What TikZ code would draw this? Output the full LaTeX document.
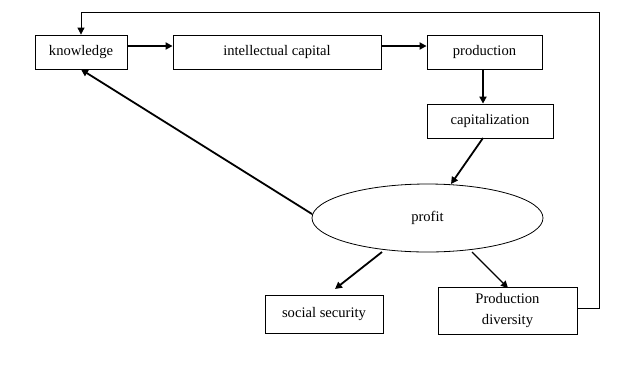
\documentclass[tikz,border=0pt]{standalone}
\usepackage{fontspec}
\setmainfont{Liberation Serif}
\usetikzlibrary{shapes.geometric,arrows.meta}
\begin{document}
\begin{tikzpicture}[x=1pt,y=-1pt,
  box/.style={draw,line width=0.8pt,inner sep=0pt,font=\fontsize{14.6}{21}\selectfont,align=center},
  arr/.style={line width=1.8pt,-{Triangle[length=7pt,width=7pt]}},
  thinarr/.style={line width=1.3pt,-{Triangle[length=7pt,width=7pt]}}]
\useasboundingbox (0,0) rectangle (621,368);
\node[box,minimum width=92pt,minimum height=34pt] (kn) at (81,52) {knowledge};
\node[box,minimum width=208pt,minimum height=34pt] (ic) at (277,52) {intellectual capital};
\node[box,minimum width=115pt,minimum height=34pt] (pr) at (484.5,52) {production};
\node[box,minimum width=126pt,minimum height=34pt] (ca) at (490,121) {capitalization};
\node[box,ellipse,minimum width=231pt,minimum height=68pt] (pf) at (427.5,218) {profit};
\node[box,minimum width=118pt,minimum height=38pt,text depth=4pt] (ss) at (324,314) {social security};
\node[box,minimum width=139pt,minimum height=47pt] (pd) at (507.5,310.5) {Production\\diversity};
\draw[arr] (kn.east |- 0,46) -- (ic.west |- 0,46);
\draw[arr] (ic.east |- 0,46) -- (pr.west |- 0,46);
\draw[arr] (pr.south -| 483,0) -- (ca.north -| 483,0);
\coordinate (c1) at (483,138);
\coordinate (p1) at (451,184);
\draw[arr] (c1) -- (p1);
\coordinate (p2) at (312,214);
\draw[arr] (p2) -- (kn.south);
\coordinate (p3) at (382,252);
\coordinate (s1) at (335,289);
\draw[arr] (p3) -- (s1);
\coordinate (p4) at (472,252);
\coordinate (d1) at (508,288);
\draw[thinarr] (p4) -- (d1);
\draw[line width=0.8pt,-{Triangle[length=7pt,width=7pt]}] (pd.east |- 0,308) -- (599,308) -- (599,12) -- (81,12) -- (kn.north);
\end{tikzpicture}
\end{document}
